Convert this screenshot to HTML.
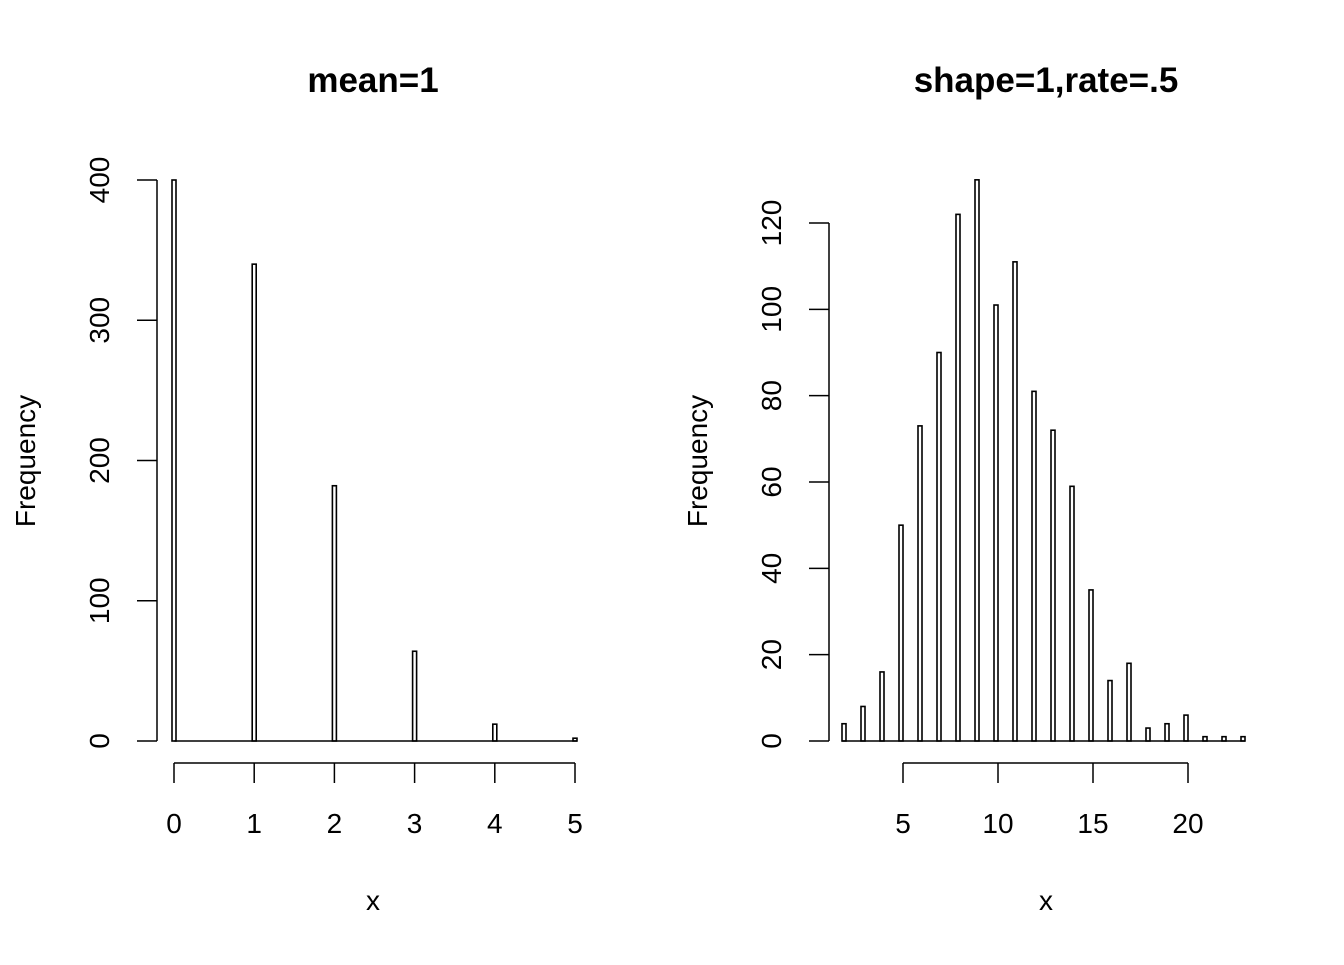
<!DOCTYPE html>
<html><head><meta charset="utf-8"><style>
body{margin:0;background:#fff}
text{font-family:"Liberation Sans",Arial,sans-serif;fill:#000}
</style></head><body>
<svg id="c" width="1344" height="960" xmlns="http://www.w3.org/2000/svg">
<text x="373" y="92" font-size="35" font-weight="bold" text-anchor="middle">mean=1</text>
<text x="1046" y="92" font-size="35" font-weight="bold" text-anchor="middle">shape=1,rate=.5</text>
<text x="373" y="910" font-size="28" text-anchor="middle">x</text>
<text x="1046" y="910" font-size="28" text-anchor="middle">x</text>
<text transform="translate(35,461) rotate(-90)" font-size="28" text-anchor="middle">Frequency</text>
<text transform="translate(707,461) rotate(-90)" font-size="28" text-anchor="middle">Frequency</text>
</svg>
<script>
const leftCats=[0,1,2,3,4,5];
const leftVals=[400,340,182,64,12,2];
const leftYTicks=[0,100,200,300,400];
const leftXTicks=[0,1,2,3,4,5];
const rightCats=[2,3,4,5,6,7,8,9,10,11,12,13,14,15,16,17,18,19,20,21,22,23];
const rightVals=[4,8,16,50,73,90,122,130,101,111,81,72,59,35,14,18,3,4,6,1,1,1];
const rightYTicks=[0,20,40,60,80,100,120];
const rightXTicks=[5,10,15,20];
const svg=document.getElementById('c');
const NS='http://www.w3.org/2000/svg';
function mk(t,a){const e=document.createElementNS(NS,t);for(const k in a)e.setAttribute(k,a[k]);svg.appendChild(e);return e;}
function panel(cats,vals,yt,xt,xs,bs,ys,axX,base0,barW,label){
  let bl=mk('line',{x1:bs(base0),x2:bs(cats[cats.length-1]),y1:ys(0),y2:ys(0),stroke:'#000','stroke-width':1.5});
  
  
  cats.forEach((c,i)=>{
    const x1=bs(c)-barW, y=ys(vals[i]);
    const r=mk('rect',{x:x1,y:y,width:barW,height:ys(0)-y,fill:'none',stroke:'#000','stroke-width':1.6});
    
    
  });
  let ya=mk('line',{x1:axX,x2:axX,y1:ys(yt[0]),y2:ys(yt[yt.length-1]),stroke:'#000','stroke-width':1.5});
  
  
  yt.forEach(v=>{
    mk('line',{x1:axX-20,x2:axX,y1:ys(v),y2:ys(v),stroke:'#000','stroke-width':1.5});
    const t=mk('text',{transform:`translate(${axX-48},${ys(v)}) rotate(-90)`,'font-size':28,'text-anchor':'middle'});
    t.textContent=v;
    
    
  });
  let xa=mk('line',{x1:xs(xt[0]),x2:xs(xt[xt.length-1]),y1:763,y2:763,stroke:'#000','stroke-width':1.5});
  
  
  xt.forEach(v=>{
    mk('line',{x1:xs(v),x2:xs(v),y1:763,y2:783,stroke:'#000','stroke-width':1.5});
    const t=mk('text',{x:xs(v),y:833,'font-size':28,'text-anchor':'middle'});
    t.textContent=v;
    
    
  });
}
const lx=v=>174+v*80.2, ly=v=>741-v*561/400;
panel(leftCats,leftVals,leftYTicks,leftXTicks,lx,v=>lx(v)+2,ly,157,-0.02,4,'left');
const rx=v=>903+(v-5)*19, ry=v=>741-v*518/120;
panel(rightCats,rightVals,rightYTicks,rightXTicks,rx,rx,ry,829,1.8,4,'right');
</script>
</body></html>
